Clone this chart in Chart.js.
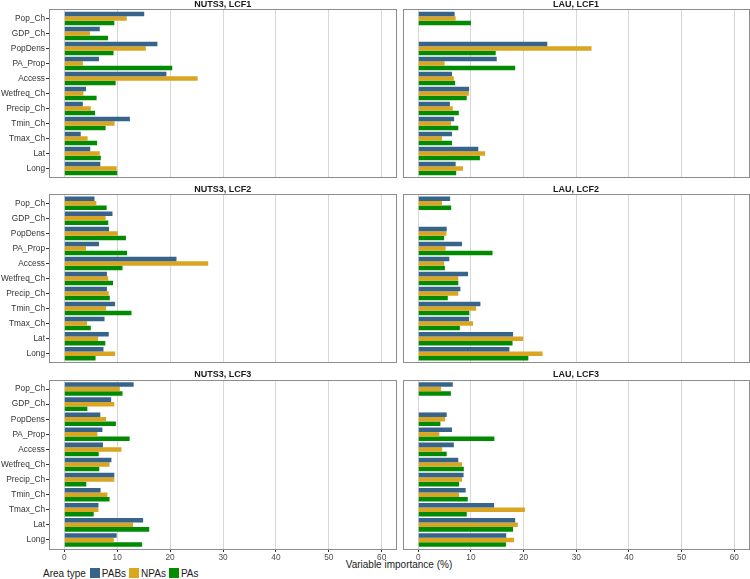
<!DOCTYPE html>
<html>
<head>
<meta charset="utf-8">
<script src="https://cdn.jsdelivr.net/npm/chart.js@4/dist/chart.umd.min.js"></script>
<style>
  body { margin: 0; background: #fff; font-family: "Liberation Sans", Arial, sans-serif; }
  #wrap { position: relative; width: 750px; height: 579px; overflow: hidden; }
  #wrap canvas { position: absolute; }
  #xtitle { position: absolute; left: 49px; width: 700px; top: 559px; font-size: 10px; line-height: 12px; text-align: center; color: #1a1a1a; }
  #legend { position: absolute; left: 43px; top: 567px; height: 12px; display: flex; align-items: center; font-size: 10px; color: #1a1a1a; }
  #legend .box { width: 10px; height: 10px; margin: 0 2px 0 3px; }
</style>
</head>
<body>
<div id="wrap">
  <div id="xtitle">Variable importance (%)</div>
  <div id="legend"><span style="margin-right:1px">Area type</span></div>
</div>
<script>
const categories = ['Pop_Ch', 'GDP_Ch', 'PopDens', 'PA_Prop', 'Access', 'Wetfreq_Ch', 'Precip_Ch', 'Tmin_Ch', 'Tmax_Ch', 'Lat', 'Long'];
const areaTypes = ['PABs', 'NPAs', 'PAs'];
const areaColors = ['#36648B', '#DAA520', '#008B00'];
const xTicks = [0, 10, 20, 30, 40, 50, 60];

// NUTS3, LCF1
const nuts3Lcf1Pabs = [15.1, 6.7, 17.6, 6.55, 19.3, 4.1, 3.5, 12.4, 3.1, 4.9, 6.8];
const nuts3Lcf1Npas = [11.8, 4.85, 15.4, 3.5, 25.2, 3.6, 5.0, 9.5, 4.4, 6.7, 9.9];
const nuts3Lcf1Pas = [9.45, 8.25, 9.3, 20.4, 9.7, 6.1, 5.8, 7.8, 6.2, 6.9, 10.0];
// LAU, LCF1
const lauLcf1Pabs = [6.9, null, 24.5, 14.9, 6.4, 9.65, 6.0, 6.8, 6.4, 11.4, 7.1];
const lauLcf1Npas = [7.1, null, 32.9, 5.0, 6.75, 9.6, 6.55, 6.2, 4.5, 12.7, 8.5];
const lauLcf1Pas = [10.0, null, 14.7, 18.4, 7.0, 9.2, 7.7, 7.6, 6.4, 11.7, 7.2];
// NUTS3, LCF2
const nuts3Lcf2Pabs = [5.7, 9.1, 8.45, 6.55, 21.2, 8.05, 8.05, 9.6, 7.6, 8.4, 7.4];
const nuts3Lcf2Npas = [6.05, 7.8, 10.1, 4.1, 27.2, 8.3, 8.4, 7.9, 4.3, 6.4, 9.6];
const nuts3Lcf2Pas = [8.0, 8.3, 11.65, 11.85, 11.0, 9.2, 8.6, 12.7, 5.0, 7.75, 5.9];
// LAU, LCF2
const lauLcf2Pabs = [6.05, null, 5.4, 8.3, 5.9, 9.45, 8.0, 11.8, 9.65, 18.0, 17.3];
const lauLcf2Npas = [4.5, null, 5.35, 5.2, 4.9, 7.6, 7.6, 11.0, 10.4, 19.9, 23.6];
const lauLcf2Pas = [6.25, null, 4.9, 14.1, 5.05, 7.6, 5.6, 9.7, 7.9, 17.9, 20.9];
// NUTS3, LCF3
const nuts3Lcf3Pabs = [13.1, 8.85, 6.8, 7.2, 7.3, 8.9, 9.45, 6.85, 6.45, 14.9, 9.9];
const nuts3Lcf3Npas = [10.5, 9.45, 7.9, 6.25, 10.8, 8.55, 9.45, 8.15, 6.45, 13.0, 9.35];
const nuts3Lcf3Pas = [11.0, 4.35, 9.75, 12.35, 6.5, 6.6, 4.15, 8.55, 5.55, 16.05, 14.7];
// LAU, LCF3
const lauLcf3Pabs = [6.55, null, 5.4, 6.4, 6.75, 7.6, 8.6, 9.0, 14.4, 18.4, 16.7];
const lauLcf3Npas = [4.35, null, 5.1, 4.0, 4.55, 8.3, 8.3, 7.75, 20.25, 18.9, 18.2];
const lauLcf3Pas = [6.2, null, 4.2, 14.45, 5.4, 8.65, 7.75, 9.4, 9.2, 18.0, 16.65];

const panels = [
  { title: 'NUTS3, LCF1', col: 0, row: 0, series: [nuts3Lcf1Pabs, nuts3Lcf1Npas, nuts3Lcf1Pas] },
  { title: 'LAU, LCF1', col: 1, row: 0, series: [lauLcf1Pabs, lauLcf1Npas, lauLcf1Pas] },
  { title: 'NUTS3, LCF2', col: 0, row: 1, series: [nuts3Lcf2Pabs, nuts3Lcf2Npas, nuts3Lcf2Pas] },
  { title: 'LAU, LCF2', col: 1, row: 1, series: [lauLcf2Pabs, lauLcf2Npas, lauLcf2Pas] },
  { title: 'NUTS3, LCF3', col: 0, row: 2, series: [nuts3Lcf3Pabs, nuts3Lcf3Npas, nuts3Lcf3Pas] },
  { title: 'LAU, LCF3', col: 1, row: 2, series: [lauLcf3Pabs, lauLcf3Npas, lauLcf3Pas] },
];

Chart.defaults.font.family = '"Liberation Sans", Arial, sans-serif';
Chart.defaults.color = '#333';

// canvas boxes and the panel rectangle inside each of them
const cols = [
  { left: 0, width: 400, panelLeft: 49, panelRight: 396.5 },
  { left: 400, width: 350, panelLeft: 401.5, panelRight: 749 },
];
const rows = [
  { top: 0, height: 178, panelTop: 9.5, panelBottom: 177.5, axis: 0 },
  { top: 184, height: 179, panelTop: 194.3, panelBottom: 362.7, axis: 0 },
  { top: 370, height: 195, panelTop: 380, panelBottom: 549, axis: 16 },
];

// discrete axis with ggplot's 0.6 expansion on each side
const yMin = 0.4;
const yMax = categories.length + 0.6;

// strip title + panel border
const panelFrame = {
  id: 'panelFrame',
  afterDraw(chart, args, opts) {
    const { ctx, chartArea: a } = chart;
    ctx.save();
    ctx.strokeStyle = '#8c8c8c';
    ctx.lineWidth = 1;
    const x0 = Math.floor(a.left) + 0.5, y0 = Math.floor(a.top) + 0.5;
    ctx.strokeRect(x0, y0, Math.floor(a.right) + 0.5 - x0, Math.floor(a.bottom) + 0.5 - y0);
    ctx.font = 'bold 9px "Liberation Sans", Arial, sans-serif';
    ctx.fillStyle = '#1a1a1a';
    ctx.textAlign = 'center';
    ctx.textBaseline = 'middle';
    ctx.fillText(opts.text, (a.left + a.right) / 2, a.top - 5);
    ctx.restore();
  }
};

const wrap = document.getElementById('wrap');

panels.forEach(p => {
  const c = cols[p.col], r = rows[p.row];
  const canvas = document.createElement('canvas');
  canvas.width = c.width;
  canvas.height = r.height;
  canvas.style.left = c.left + 'px';
  canvas.style.top = r.top + 'px';
  wrap.appendChild(canvas);

  const showY = p.col === 0;
  const showX = r.axis > 0;
  const yWidth = c.panelLeft - c.left;

  new Chart(canvas, {
    type: 'bar',
    data: {
      datasets: p.series.map((values, i) => ({
        label: areaTypes[i],
        data: values.map((v, k) => ({ x: v, y: k + 1 })),
        backgroundColor: areaColors[i],
        borderWidth: 0,
        categoryPercentage: 0.9,
        barPercentage: 1.0,
      })),
    },
    options: {
      indexAxis: 'y',
      responsive: false,
      animation: false,
      layout: {
        padding: {
          left: showY ? 0 : yWidth,
          right: c.left + c.width - c.panelRight,
          top: r.panelTop - r.top,
          bottom: r.top + r.height - r.panelBottom - r.axis,
        },
      },
      plugins: {
        legend: { display: false },
        tooltip: { enabled: false },
        panelFrame: { text: p.title },
      },
      scales: {
        x: {
          type: 'linear',
          min: -2.9,
          max: 62.8,
          border: { display: false },
          afterBuildTicks: s => { s.ticks = xTicks.map(v => ({ value: v })); },
          afterFit: s => {
            s.height = r.axis;
            s.paddingLeft = 0;
            s.paddingRight = 0;
          },
          grid: {
            color: '#d6d6d6',
            lineWidth: 1,
            drawTicks: showX,
            tickLength: 3,
            tickColor: '#333',
          },
          ticks: {
            display: showX,
            padding: 1,
            font: { size: 8.3 },
            color: '#4d4d4d',
          },
        },
        y: {
          type: 'linear',
          display: showY,
          reverse: true,
          offset: false,
          bounds: 'data',
          min: yMin,
          max: yMax,
          border: { display: false },
          afterBuildTicks: s => {
            s.ticks = categories.map((_, k) => ({ value: k + 1 }));
            s.min = yMin;
            s.max = yMax;
          },
          // fixed label column; labels may overhang the panel ends
          afterFit: s => {
            s.width = yWidth;
            s.paddingTop = 0;
            s.paddingBottom = 0;
          },
          grid: {
            offset: false,
            drawOnChartArea: false,
            drawTicks: true,
            tickLength: 3,
            tickColor: '#333',
          },
          ticks: {
            padding: 1,
            font: { size: 8.3 },
            color: '#333',
            callback: v => categories[v - 1],
          },
        },
      },
    },
    plugins: [panelFrame],
  });
});

// legend
const legend = document.getElementById('legend');
areaTypes.forEach((name, i) => {
  const box = document.createElement('span');
  box.className = 'box';
  box.style.background = areaColors[i];
  const label = document.createElement('span');
  label.textContent = name;
  legend.appendChild(box);
  legend.appendChild(label);
});
</script>
</body>
</html>
